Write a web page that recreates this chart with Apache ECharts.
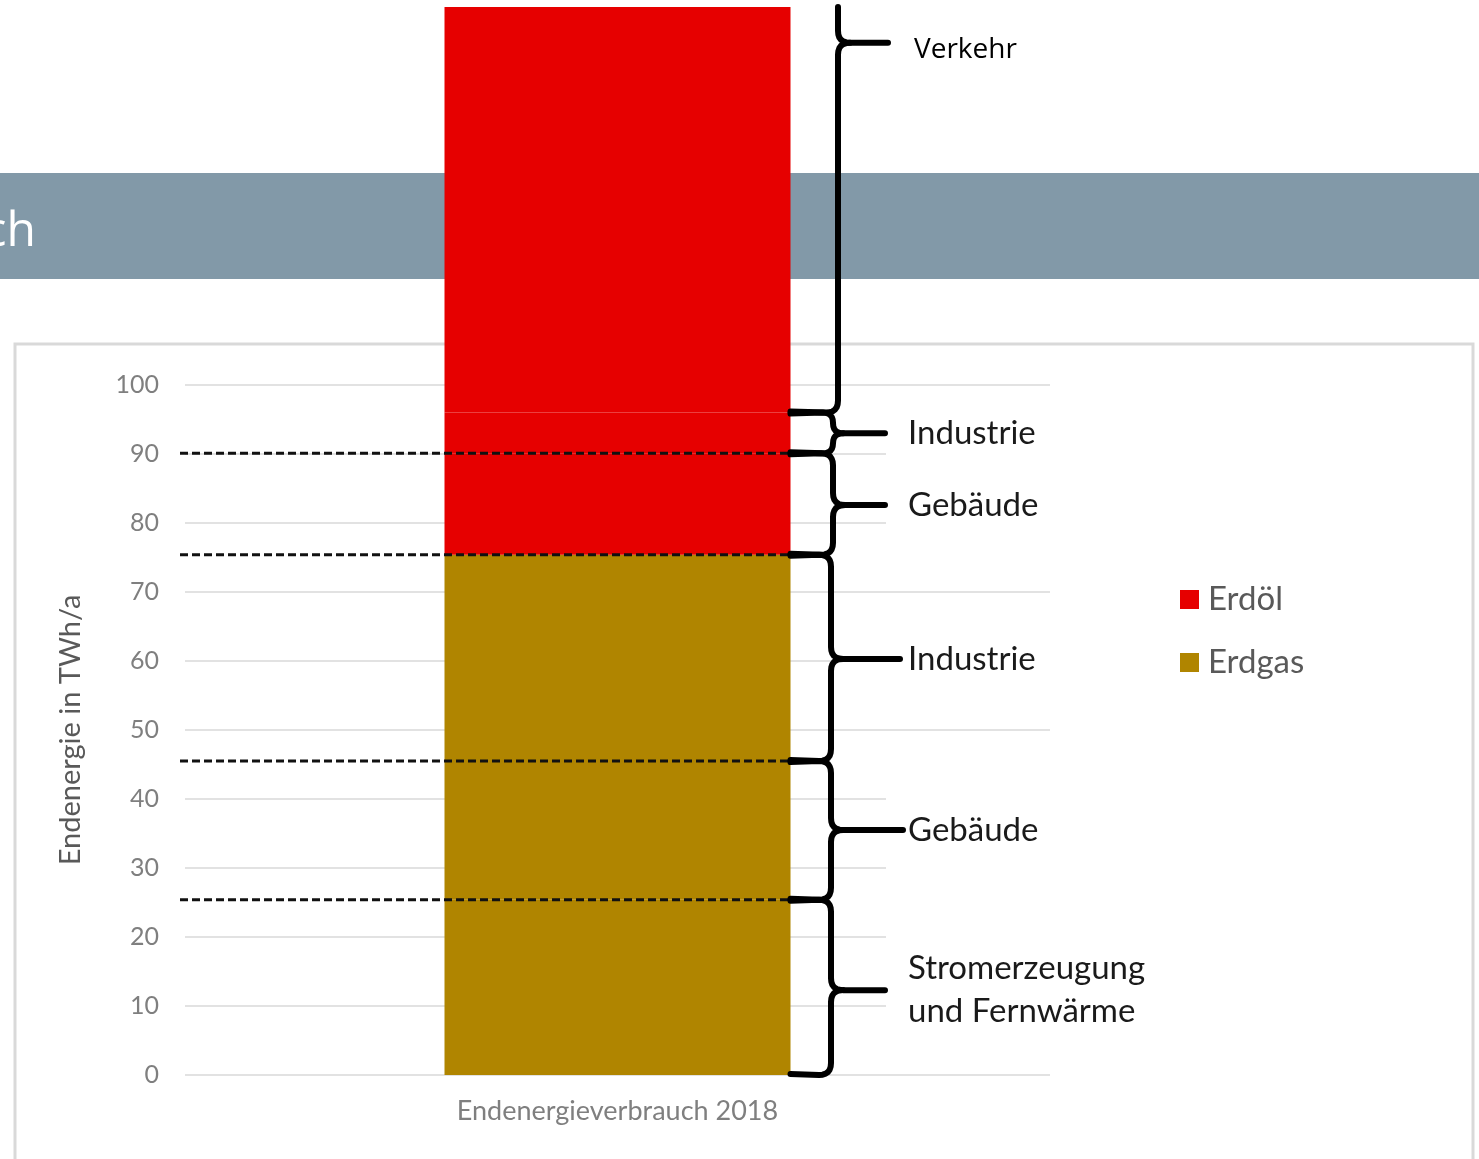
<!DOCTYPE html>
<html>
<head>
<meta charset="utf-8">
<script src="https://cdn.jsdelivr.net/npm/echarts@6/dist/echarts.min.js"></script>
<style>
  html, body { margin: 0; padding: 0; background: #ffffff; }
  #c { width: 1479px; height: 1159px; }
</style>
</head>
<body>
<div id="c"></div>
<script>
// ---- data ----
const categories = ['Endenergieverbrauch 2018'];
const fuels = ['Erdöl', 'Erdgas'];
const sectorNames = ['Stromerzeugung\nund Fernwärme', 'Gebäude', 'Industrie', 'Gebäude', 'Industrie', 'Verkehr'];
const sectorFuel = ['Erdgas', 'Erdgas', 'Erdgas', 'Erdöl', 'Erdöl', 'Erdöl'];
const sectorValues = [25.4, 20.1, 29.9, 14.7, 5.9, 58.8];
const labelAnchors = [12.3, 35.5, 60.3, 82.6, 93.0, 149.6];
const dashedAt = [25.4, 45.5, 75.4, 90.1];
const yTicks = { min: 0, max: 100, interval: 10 };
const axisTitle = 'Endenergie in TWh/a';
const headerText = 'ch';

const fuelColors = { 'Erdöl': '#E60000', 'Erdgas': '#B08500' };

const gridL = 185, gridR = 429, gridT = 385, gridB = 84;

const chart = echarts.init(document.getElementById('c'), null, { renderer: 'canvas' });

const series = sectorValues.map((v, i) => ({
  name: sectorFuel[i],
  type: 'bar',
  stack: 'total',
  data: [v],
  barWidth: '40%',
  clip: false,
  z: 3,
  itemStyle: { color: fuelColors[sectorFuel[i]] },
  emphasis: { disabled: true },
  silent: true
}));

chart.setOption({
  animation: false,
  backgroundColor: '#ffffff',
  textStyle: { fontFamily: 'Lato' },
  grid: { left: gridL, right: gridR, top: gridT, bottom: gridB, containLabel: false },
  legend: {
    data: fuels,
    orient: 'vertical',
    left: 1175,
    top: 578,
    icon: 'rect',
    itemWidth: 19,
    itemHeight: 19,
    itemGap: 30,
    textStyle: { fontFamily: 'Lato', fontSize: 33, color: '#595959', padding: [0, 0, 0, 4] },
    selectedMode: false
  },
  xAxis: {
    type: 'category',
    data: categories,
    axisLine: { show: false },
    axisTick: { show: false },
    axisLabel: { color: '#7f7f7f', fontFamily: 'Lato', fontSize: 27, margin: 23 }
  },
  yAxis: {
    type: 'value',
    min: yTicks.min,
    max: yTicks.max,
    interval: yTicks.interval,
    name: axisTitle,
    nameLocation: 'middle',
    nameGap: 100,
    nameTextStyle: { color: '#595959', fontFamily: 'Lato', fontSize: 29 },
    axisLine: { show: false },
    axisTick: { show: false },
    axisLabel: { color: '#7f7f7f', fontFamily: 'Lato', fontSize: 25, margin: 26 },
    splitLine: { lineStyle: { color: '#d9d9d9', width: 1.5 } }
  },
  series: series
});

// ---- annotations computed from the axes ----
const py = v => chart.convertToPixel({ yAxisIndex: 0 }, v);
const cx = chart.convertToPixel({ xAxisIndex: 0 }, categories[0]);
const gridW = 1479 - gridL - gridR;
const barRight = cx + gridW * 0.2;

const cum = [0];
sectorValues.forEach(v => cum.push(+(cum[cum.length - 1] + v).toFixed(2)));

const graphics = [];

// slide header band + frame (behind everything)
graphics.push({ type: 'rect', z: -20, silent: true, shape: { x: 0, y: 173, width: 1479, height: 106 }, style: { fill: '#8299A8' } });
graphics.push({ type: 'text', z: -19, silent: true, x: 36, y: 232, style: { text: headerText, fill: '#ffffff', font: '48px "Open Sans"', textAlign: 'right', textVerticalAlign: 'middle' } });
graphics.push({ type: 'rect', z: -20, silent: true, shape: { x: 15, y: 344, width: 1458, height: 840 }, style: { fill: '#ffffff', stroke: '#d9d9d9', lineWidth: 3 } });

// white boxes behind labels (cover grid lines)
[[py(96.8), py(73.0)], [py(63.5), py(57.0)], [py(41.5), py(1.5)]].forEach(([a, b]) => {
  graphics.push({ type: 'rect', z: 1, silent: true, shape: { x: 886, y: a, width: 170, height: b - a }, style: { fill: '#ffffff' } });
});

// dashed lines
dashedAt.forEach(v => {
  const y = py(v);
  graphics.push({ type: 'line', z: 10, silent: true, shape: { x1: 180, y1: y, x2: barRight, y2: y }, style: { stroke: '#111', lineWidth: 3, lineDash: [8, 4] } });
});

// quadratic curve sampler for brace shapes
function quad(p0, c, p1, n) {
  const pts = [];
  for (let k = 1; k <= n; k++) {
    const t = k / n;
    const a = (1 - t) * (1 - t), b = 2 * (1 - t) * t, d = t * t;
    pts.push([a * p0[0] + b * c[0] + d * p1[0], a * p0[1] + b * c[1] + d * p1[1]]);
  }
  return pts;
}

// braces
const spineX = [831, 831, 831, 833, 833, 838];
const tipX = [885, 903, 900, 885, 885, 888];
sectorValues.forEach((v, i) => {
  const y1 = py(cum[i + 1]);   // top
  const y2 = py(cum[i]);       // bottom
  const ym = py(labelAnchors[i]);
  const xs = spineX[i], xt = tipX[i], x0 = barRight;
  const r = Math.min(12, (y2 - y1) / 4);
  const isTop = i === sectorValues.length - 1;

  let up = [];
  if (isTop) {
    up.push([xs, y1]);
  } else {
    up.push([x0, y1 + 1]);
    up.push([xs - r, y1]);
    up = up.concat(quad([xs - r, y1], [xs, y1], [xs, y1 + r], 6));
  }
  up.push([xs, ym - r]);
  up = up.concat(quad([xs, ym - r], [xs, ym], [xs + r, ym], 6));
  up.push([xt, ym]);

  let low = [[xs + r, ym]];
  low = low.concat(quad([xs + r, ym], [xs, ym], [xs, ym + r], 6));
  low.push([xs, y2 - r]);
  low = low.concat(quad([xs, y2 - r], [xs, y2], [xs - r, y2], 6));
  low.push([x0, y2 - 1]);

  [up, low].forEach(pts => {
    graphics.push({ type: 'polyline', z: 11, silent: true, shape: { points: pts }, style: { stroke: '#000', lineWidth: 6, fill: null, lineCap: 'round', lineJoin: 'round' } });
  });

  graphics.push({
    type: 'text', z: 12, silent: true,
    x: isTop ? 914 : 908,
    y: isTop ? ym + 7 : ym,
    style: {
      text: sectorNames[i],
      fill: isTop ? '#000' : '#1a1a1a',
      font: isTop ? '28px "Open Sans"' : '33px Lato',
      lineHeight: 43,
      textAlign: 'left',
      textVerticalAlign: 'middle'
    }
  });
});

chart.setOption({ graphic: graphics });
</script>
</body>
</html>
